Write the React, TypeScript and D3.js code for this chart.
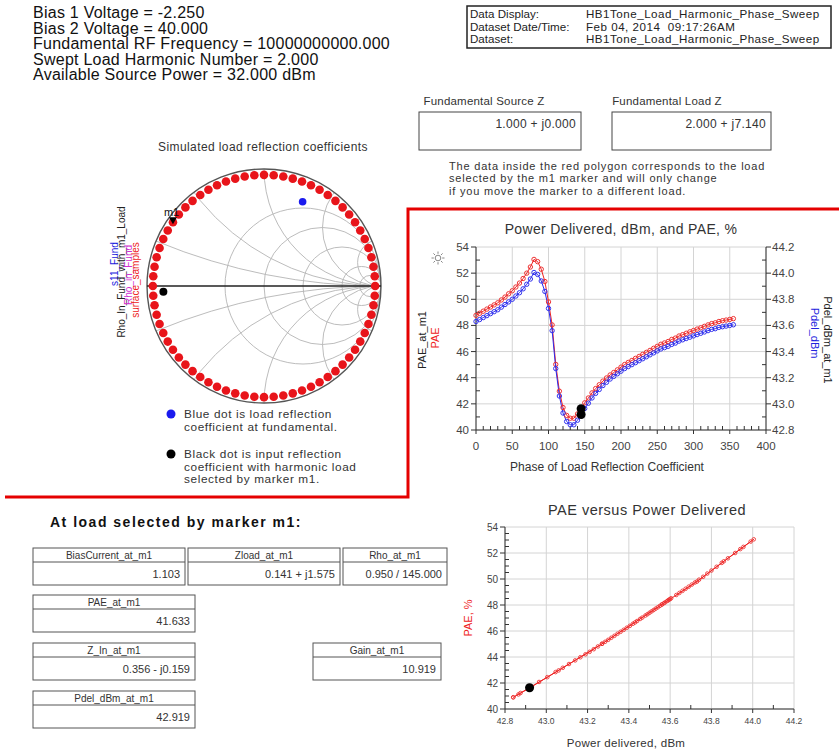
import React from "react";
import * as d3 from "d3";

const infoLines = [
  "Bias 1 Voltage = -2.250",
  "Bias 2 Voltage = 40.000",
  "Fundamental RF Frequency = 10000000000.000",
  "Swept Load Harmonic Number = 2.000",
  "Available Source Power = 32.000 dBm",
];
const dsLabels = ["Data Display:", "Dataset Date/Time:", "Dataset:"];
const dsValues = ["HB1Tone_Load_Harmonic_Phase_Sweep", "Feb 04, 2014  09:17:26AM", "HB1Tone_Load_Harmonic_Phase_Sweep"];

const zLabels = ["Fundamental Source Z", "Fundamental Load Z"];
const zValues = ["1.000 + j0.000", "2.000 + j7.140"];
const noteLines = [
  "The data inside the red polygon corresponds to the load",
  "selected by the m1 marker and will only change",
  "if you move the marker to a different load.",
];

const phases = [0,5,10,15,20,25,30,35,40,45,50,55,60,65,70,75,80,85,90,95,100,105,110,115,120,125,130,135,140,145,150,155,160,165,170,175,180,185,190,195,200,205,210,215,220,225,230,235,240,245,250,255,260,265,270,275,280,285,290,295,300,305,310,315,320,325,330,335,340,345,350,355];
const paeValues = [48.77,48.93,49.09,49.25,49.41,49.57,49.73,49.95,50.17,50.42,50.65,50.94,51.24,51.59,52.0,52.47,53.05,52.88,52.3,51.36,49.8,48.04,45.02,42.97,41.72,41.12,40.9,40.9,41.23,41.633,42.08,42.45,42.84,43.17,43.46,43.74,43.98,44.21,44.4,44.6,44.81,45.01,45.17,45.32,45.48,45.63,45.79,45.94,46.09,46.25,46.4,46.56,46.66,46.77,46.93,47.03,47.19,47.29,47.4,47.51,47.61,47.72,47.82,47.93,48.04,48.14,48.2,48.3,48.36,48.41,48.46,48.52];
const pdelValues = [43.63,43.645,43.66,43.675,43.69,43.705,43.72,43.74,43.76,43.78,43.8,43.825,43.85,43.88,43.915,43.955,44.005,43.99,43.94,43.86,43.73,43.56,43.27,43.06,42.93,42.865,42.84,42.84,42.875,42.919,42.965,43.005,43.045,43.08,43.11,43.14,43.165,43.19,43.21,43.23,43.25,43.27,43.285,43.3,43.315,43.33,43.345,43.36,43.375,43.39,43.405,43.42,43.43,43.44,43.455,43.465,43.48,43.49,43.5,43.51,43.52,43.53,43.54,43.55,43.56,43.57,43.575,43.585,43.59,43.595,43.6,43.605];

const sampleRho = 0.95;
const markerPhase = 145;
const markerPae = 41.633;
const markerPdel = 42.919;
const fundLoadGamma = [0.33, 0.72];
const inputGamma = [-0.86, -0.05];
const rCircles = [0.5, 1, 2, 5, 10];
const xArcs = [0.2, 0.5, 1, 2, 5];
const smithTraceLabels = ["s11_Fund", "Rho_In_Fund_with_m1_Load", "Rho_in_Fund", "surface_samples"];
const smithTraceColors = ["#2222dd", "#222", "#d030d0", "#e22"];

const legendBlue = ["Blue dot is load reflection", "coefficient at fundamental."];
const legendBlack = ["Black dot is input reflection", "coefficient with harmonic load", "selected by marker m1."];

const topXTicks = [0, 50, 100, 150, 200, 250, 300, 350, 400];
const topLeftTicks = [40, 42, 44, 46, 48, 50, 52, 54];
const topRightTicks = [42.8, 43.0, 43.2, 43.4, 43.6, 43.8, 44.0, 44.2];
const botXTicks = [42.8, 43.0, 43.2, 43.4, 43.6, 43.8, 44.0, 44.2];
const botYTicks = [40, 42, 44, 46, 48, 50, 52, 54];

const tableLabels = ["BiasCurrent_at_m1", "Zload_at_m1", "Rho_at_m1", "PAE_at_m1", "Z_In_at_m1", "Gain_at_m1", "Pdel_dBm_at_m1"];
const tableValues = ["1.103", "0.141 + j1.575", "0.950 / 145.000", "41.633", "0.356 - j0.159", "10.919", "42.919"];

const FONT = "'Liberation Sans', Arial, Helvetica, sans-serif";

export default function App() {
  // ---------- Smith chart ----------
  const cx = 264, cy = 286, R = 117;
  const gx = d3.scaleLinear().domain([-1, 1]).range([cx - R, cx + R]);
  const gy = d3.scaleLinear().domain([-1, 1]).range([cy + R, cy - R]);
  const rad = (d: number) => (d * Math.PI) / 180;
  const mAngle = rad(markerPhase);
  const mX = gx(sampleRho * Math.cos(mAngle));
  const mY = gy(sampleRho * Math.sin(mAngle));
  const traceLabelX = [118, 125, 132, 139];
  const traceLabelY = [264, 272, 275, 280];

  // ---------- top chart ----------
  const tx = d3.scaleLinear().domain([0, 400]).range([476, 766]);
  const tyL = d3.scaleLinear().domain([40, 54]).range([430, 247]);
  const tyR = d3.scaleLinear().domain([42.8, 44.2]).range([430, 247]);
  const paeLine = d3.line<number>().x((_, i) => tx(phases[i])).y((d) => tyL(d))(paeValues) || "";
  const pdelLine = d3.line<number>().x((_, i) => tx(phases[i])).y((d) => tyR(d))(pdelValues) || "";
  const topMinorX = d3.range(0, 401, 10);
  const topMinorL = d3.range(40, 54.01, 1);
  const topMinorR = d3.range(42.8, 44.21, 0.1);

  // ---------- bottom chart ----------
  const bx = d3.scaleLinear().domain([42.8, 44.2]).range([505, 794]);
  const by = d3.scaleLinear().domain([40, 54]).range([709, 527]);
  const botLine = d3.line<number>().x((d) => bx(d)).y((_, i) => by(paeValues[i]))(pdelValues) || "";
  const botMinorX = d3.range(42.8, 44.21, 0.1);
  const botMinorY = d3.range(40, 54.01, 0.5);

  const tableLayout = [
    [33, 548, 152], [188, 548, 152], [343, 548, 104],
    [33, 595, 162], [33, 643, 162], [313, 643, 128], [33, 691, 162],
  ];

  const sunRays = d3.range(0, 360, 45);

  return (
    <svg width={839} height={749} style={{ position: "absolute", left: 0, top: 0, background: "#fff" }} fontFamily={FONT}>
      <rect x={0} y={0} width={839} height={749} fill="#fff" />
      {/* top-left info */}
      {infoLines.map((t, i) => (
        <text key={t} x={33} y={18 + i * 15.5} fontSize={16} letterSpacing={0.25} fill="#111">{t}</text>
      ))}
      {/* dataset box */}
      <rect x={467} y={6} width={364} height={42} fill="none" stroke="#222" strokeWidth={1.5} />
      {dsLabels.map((t, i) => (
        <g key={t}>
          <text x={470} y={18 + i * 12.6} fontSize={11.6} fill="#222">{t}</text>
          <text x={586} y={18 + i * 12.6} fontSize={11.6} letterSpacing={0.5} fill="#222" style={{ whiteSpace: "pre" }}>{dsValues[i]}</text>
        </g>
      ))}

      {/* Fundamental Z boxes */}
      {zLabels.map((t, i) => {
        const x0 = i === 0 ? 419 : 612;
        const w = i === 0 ? 162 : 159;
        return (
          <g key={t}>
            <text x={x0 + (i === 0 ? 65 : 55)} y={105} fontSize={11.5} letterSpacing={0.2} fill="#333" textAnchor="middle">{t}</text>
            <rect x={x0} y={112} width={w} height={38} fill="none" stroke="#444" strokeWidth={1} />
            <text x={x0 + w - 5} y={128} fontSize={12} letterSpacing={0.3} fill="#333" textAnchor="end">{zValues[i]}</text>
          </g>
        );
      })}
      {noteLines.map((t, i) => (
        <text key={t} x={449} y={170 + i * 12.3} fontSize={11} letterSpacing={0.8} fill="#333">{t}</text>
      ))}

      {/* Smith chart */}
      <text x={263} y={151} fontSize={12} letterSpacing={0.4} fill="#333" textAnchor="middle">Simulated load reflection coefficients</text>
      <defs>
        <clipPath id="smithClip"><circle cx={cx} cy={cy} r={R} /></clipPath>
      </defs>
      <g clipPath="url(#smithClip)" fill="none" stroke="#b4b4b4" strokeWidth={0.9}>
        {rCircles.map((r) => (
          <circle key={"r" + r} cx={gx(r / (1 + r))} cy={cy} r={R / (1 + r)} />
        ))}
        {xArcs.map((x) => (
          <g key={"x" + x}>
            <circle cx={gx(1)} cy={gy(1 / x)} r={R / x} />
            <circle cx={gx(1)} cy={gy(-1 / x)} r={R / x} />
          </g>
        ))}
      </g>
      <circle cx={cx} cy={cy} r={R} fill="none" stroke="#555" strokeWidth={1.4} />
      <line x1={gx(-1)} x2={gx(1)} y1={cy} y2={cy} stroke="#222" strokeWidth={1.3} />
      {phases.map((p) => (
        <circle key={"s" + p} cx={gx(sampleRho * Math.cos(rad(p)))} cy={gy(sampleRho * Math.sin(rad(p)))} r={4.3} fill="#e8141a" />
      ))}
      <circle cx={gx(fundLoadGamma[0])} cy={gy(fundLoadGamma[1])} r={3.8} fill="#1a1aee" />
      <circle cx={gx(inputGamma[0])} cy={gy(inputGamma[1])} r={4} fill="#000" />
      <path d={`M${mX - 4},${mY - 5} L${mX + 4},${mY - 5} L${mX},${mY + 2} Z`} fill="#000" />
      <text x={mX - 9} y={mY - 6} fontSize={11} fill="#111">m1</text>
      {smithTraceLabels.map((t, i) => (
        <text key={t} transform={`translate(${traceLabelX[i]},${traceLabelY[i]}) rotate(-90)`} fontSize={10} fill={smithTraceColors[i]} textAnchor="middle">{t}</text>
      ))}
      {/* legend */}
      <circle cx={171} cy={414} r={4.5} fill="#1a1aee" />
      {legendBlue.map((t, i) => (
        <text key={t} x={184} y={418 + i * 12.5} fontSize={11.8} letterSpacing={0.6} fill="#333">{t}</text>
      ))}
      <circle cx={171} cy={454} r={4.5} fill="#000" />
      {legendBlack.map((t, i) => (
        <text key={t} x={184} y={458 + i * 12.5} fontSize={11.8} letterSpacing={0.6} fill="#333">{t}</text>
      ))}

      {/* red polygon */}
      <path d="M5,497 H408 V209 H839" fill="none" stroke="#e50000" strokeWidth={3} />

      {/* top chart */}
      <text x={621} y={234} fontSize={14} letterSpacing={0.35} fill="#333" textAnchor="middle">Power Delivered, dBm, and PAE, %</text>
      <g stroke="#d4d4d4" strokeWidth={1}>
        {topXTicks.map((t) => <line key={"gx" + t} x1={tx(t)} x2={tx(t)} y1={247} y2={430} />)}
        {topLeftTicks.map((t) => <line key={"gy" + t} x1={476} x2={766} y1={tyL(t)} y2={tyL(t)} />)}
      </g>
      <g stroke="#333" strokeWidth={1}>
        <line x1={476} x2={476} y1={247} y2={430} />
        <line x1={766} x2={766} y1={247} y2={430} />
        <line x1={476} x2={766} y1={430} y2={430} />
        {topMinorX.map((t) => <line key={"mx" + t} x1={tx(t)} x2={tx(t)} y1={430} y2={t % 50 === 0 ? 434 : 426} />)}
        {topMinorL.map((t) => <line key={"ml" + t} x1={476} x2={Math.round(t) % 2 === 0 ? 471 : 480} y1={tyL(t)} y2={tyL(t)} />)}
        {topMinorR.map((t, i) => <line key={"mr" + i} x1={766} x2={i % 2 === 0 ? 771 : 762} y1={tyR(t)} y2={tyR(t)} />)}
      </g>
      {topXTicks.map((t) => (
        <text key={"tx" + t} x={tx(t)} y={450} fontSize={11.5} fill="#444" textAnchor="middle">{t}</text>
      ))}
      {topLeftTicks.map((t) => (
        <text key={"tl" + t} x={469} y={tyL(t) + 4} fontSize={11.5} fill="#444" textAnchor="end">{t}</text>
      ))}
      {topRightTicks.map((t) => (
        <text key={"tr" + t} x={772} y={tyR(t) + 4} fontSize={11.5} fill="#444">{t.toFixed(1)}</text>
      ))}
      <text x={607} y={471} fontSize={12} fill="#333" textAnchor="middle">Phase of Load Reflection Coefficient</text>
      <text transform="translate(426,340) rotate(-90)" fontSize={11} fill="#222" textAnchor="middle">PAE_at_m1</text>
      <text transform="translate(439,338) rotate(-90)" fontSize={11} fill="#e22" textAnchor="middle">PAE</text>
      <text transform="translate(824,340) rotate(90)" fontSize={11} fill="#222" textAnchor="middle">Pdel_dBm_at_m1</text>
      <text transform="translate(811,333) rotate(90)" fontSize={11} fill="#2222dd" textAnchor="middle">Pdel_dBm</text>
      {/* sun icon */}
      <g stroke="#888" strokeWidth={1}>
        <circle cx={438} cy={258} r={2.8} fill="none" />
        {sunRays.map((a) => (
          <line key={"sun" + a} x1={438 + 4.2 * Math.cos(rad(a))} y1={258 + 4.2 * Math.sin(rad(a))} x2={438 + 6.5 * Math.cos(rad(a))} y2={258 + 6.5 * Math.sin(rad(a))} />
        ))}
      </g>
      <path d={paeLine} fill="none" stroke="#ee2222" strokeWidth={1} />
      <path d={pdelLine} fill="none" stroke="#2a2aee" strokeWidth={1} />
      {paeValues.map((v, i) => (
        <circle key={"pm" + i} cx={tx(phases[i])} cy={tyL(v)} r={2.2} fill="none" stroke="#ee3333" strokeWidth={1} />
      ))}
      {pdelValues.map((v, i) => (
        <circle key={"dm" + i} cx={tx(phases[i])} cy={tyR(v)} r={2.2} fill="none" stroke="#3333ee" strokeWidth={1} />
      ))}
      <circle cx={tx(markerPhase)} cy={tyL(markerPae)} r={4.5} fill="#000" />
      <circle cx={tx(markerPhase)} cy={tyR(markerPdel)} r={4.5} fill="#000" />

      {/* bottom chart */}
      <text x={647} y={515} fontSize={14.5} letterSpacing={0.5} fill="#333" textAnchor="middle">PAE versus Power Delivered</text>
      <g stroke="#d4d4d4" strokeWidth={1}>
        {botXTicks.map((t) => <line key={"bgx" + t} x1={bx(t)} x2={bx(t)} y1={527} y2={709} />)}
        {botYTicks.map((t) => <line key={"bgy" + t} x1={505} x2={794} y1={by(t)} y2={by(t)} />)}
      </g>
      <g stroke="#333" strokeWidth={1}>
        <line x1={505} x2={505} y1={527} y2={709} />
        <line x1={505} x2={794} y1={709} y2={709} />
        {botMinorX.map((t, i) => <line key={"bmx" + i} x1={bx(t)} x2={bx(t)} y1={709} y2={i % 2 === 0 ? 713 : 705} />)}
        {botMinorY.map((t, i) => <line key={"bmy" + i} x1={505} x2={i % 4 === 0 ? 500 : 509} y1={by(t)} y2={by(t)} />)}
      </g>
      {botXTicks.map((t) => (
        <text key={"bxt" + t} x={bx(t)} y={724} fontSize={8.5} fill="#444" textAnchor="middle">{t.toFixed(1)}</text>
      ))}
      {botYTicks.map((t) => (
        <text key={"byt" + t} x={498} y={by(t) + 3.5} fontSize={10} fill="#444" textAnchor="end">{t}</text>
      ))}
      <text x={626} y={747} fontSize={11.5} letterSpacing={0.3} fill="#333" textAnchor="middle">Power delivered, dBm</text>
      <text transform="translate(472,618) rotate(-90)" fontSize={11} fill="#e22" textAnchor="middle">PAE, %</text>
      <path d={botLine} fill="none" stroke="#ee2222" strokeWidth={1} />
      {pdelValues.map((v, i) => (
        <circle key={"bm" + i} cx={bx(v)} cy={by(paeValues[i])} r={1.8} fill="none" stroke="#ee3333" strokeWidth={0.9} />
      ))}
      <circle cx={bx(markerPdel)} cy={by(markerPae)} r={4.5} fill="#000" />

      {/* tables */}
      <text x={50} y={527} fontSize={14} fontWeight="bold" letterSpacing={1.5} fill="#111">At load selected by marker m1:</text>
      {tableLabels.map((t, i) => {
        const [x, y, w] = tableLayout[i];
        return (
          <g key={t}>
            <rect x={x} y={y} width={w} height={37} fill="none" stroke="#555" strokeWidth={1} />
            <line x1={x} x2={x + w} y1={y + 14} y2={y + 14} stroke="#555" strokeWidth={1} />
            <text x={x + w / 2} y={y + 11} fontSize={10} fill="#333" textAnchor="middle">{t}</text>
            <text x={x + w - 5} y={y + 30} fontSize={11} fill="#333" textAnchor="end">{tableValues[i]}</text>
          </g>
        );
      })}
    </svg>
  );
}
